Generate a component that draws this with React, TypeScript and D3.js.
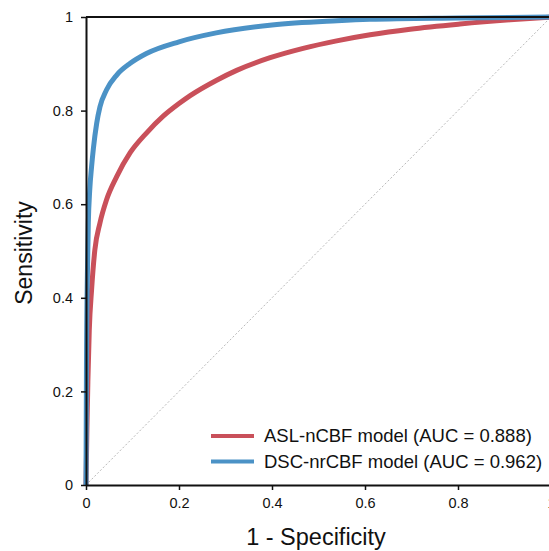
import React, { useEffect, useRef } from 'react';
import * as d3 from 'd3';

// ROC curves: [1 - specificity, sensitivity]
const aslFpr = [0, 0.002, 0.004, 0.007, 0.012, 0.019, 0.03, 0.044, 0.066, 0.095, 0.13, 0.166, 0.2, 0.224, 0.281, 0.324, 0.396, 0.467, 0.539, 0.611, 0.697, 0.804, 0.912, 1];
const aslTpr = [0, 0.12, 0.22, 0.33, 0.417, 0.502, 0.56, 0.609, 0.659, 0.71, 0.752, 0.788, 0.815, 0.832, 0.865, 0.886, 0.913, 0.933, 0.949, 0.962, 0.974, 0.985, 0.994, 1];

const dscFpr = [0, 0.001, 0.003, 0.005, 0.008, 0.012, 0.016, 0.023, 0.03, 0.044, 0.066, 0.095, 0.13, 0.2, 0.28, 0.4, 0.54, 0.61, 0.8, 1];
const dscTpr = [0, 0.25, 0.45, 0.56, 0.63, 0.68, 0.72, 0.773, 0.808, 0.844, 0.876, 0.901, 0.922, 0.947, 0.966, 0.983, 0.992, 0.995, 0.998, 1];

const seriesNames = ['ASL-nCBF model (AUC = 0.888)', 'DSC-nrCBF model (AUC = 0.962)'];
const seriesColors = ['#c9505a', '#4b92c6'];
const tickValues = [0, 0.2, 0.4, 0.6, 0.8, 1];

const App = () => {
  const svgRef = useRef<SVGSVGElement>(null);

  useEffect(() => {
    const width = 549;
    const height = 551;
    const margin = { top: 17, right: -2, bottom: 66, left: 86 };
    const font = '"Liberation Sans", Arial, sans-serif';

    const x = d3.scaleLinear().domain([0, 1]).range([margin.left, width - margin.right]);
    const y = d3.scaleLinear().domain([0, 1]).range([height - margin.bottom, margin.top]);

    const svg = d3.select(svgRef.current);
    svg.selectAll('*').remove();
    svg.attr('width', width).attr('height', height).style('font-family', font);

    svg.append('rect').attr('width', width).attr('height', height).attr('fill', 'white');

    // chance line
    svg.append('line')
      .attr('x1', x(0)).attr('y1', y(0))
      .attr('x2', x(1)).attr('y2', y(1))
      .attr('stroke', '#b8b8b8')
      .attr('stroke-width', 1)
      .attr('stroke-dasharray', '2,2');

    const series = [
      aslFpr.map((f, i) => [f, aslTpr[i]] as [number, number]),
      dscFpr.map((f, i) => [f, dscTpr[i]] as [number, number])
    ];

    const line = d3.line<[number, number]>()
      .x(d => x(d[0]))
      .y(d => y(d[1]))
      .curve(d3.curveMonotoneX);

    svg.append('g')
      .selectAll('path')
      .data(series)
      .join('path')
      .attr('fill', 'none')
      .attr('stroke', (d, i) => seriesColors[i])
      .attr('stroke-width', 5)
      .attr('stroke-linejoin', 'round')
      .attr('d', d => line(d));

    // top border of the frame
    svg.append('line')
      .attr('x1', x(0)).attr('x2', x(1))
      .attr('y1', y(1)).attr('y2', y(1))
      .attr('stroke', '#111').attr('stroke-width', 2);

    const xAxis = svg.append('g')
      .attr('transform', `translate(0,${y(0)})`)
      .call(d3.axisBottom(x).tickValues(tickValues).tickFormat(d => String(d)).tickSize(5).tickSizeOuter(0).tickPadding(8));
    xAxis.select('.domain').attr('stroke', '#111').attr('stroke-width', 2);
    xAxis.selectAll('.tick line').attr('stroke', '#111').attr('stroke-width', 1.5);
    xAxis.selectAll('.tick text').attr('font-size', 14.5).attr('fill', '#111').attr('font-family', font);

    const yAxis = svg.append('g')
      .attr('transform', `translate(${x(0)},0)`)
      .call(d3.axisLeft(y).tickValues(tickValues).tickFormat(d => String(d)).tickSize(5).tickSizeOuter(0).tickPadding(8));
    yAxis.select('.domain').attr('stroke', '#111').attr('stroke-width', 2);
    yAxis.selectAll('.tick line').attr('stroke', '#111').attr('stroke-width', 1.5);
    yAxis.selectAll('.tick text').attr('font-size', 14.5).attr('fill', '#111').attr('font-family', font);

    svg.append('text')
      .attr('x', 316)
      .attr('y', 545)
      .attr('text-anchor', 'middle')
      .attr('font-size', 23.5)
      .attr('fill', '#111')
      .text('1 - Specificity');

    svg.append('text')
      .attr('transform', `translate(32,${y(0.5) + 2}) rotate(-90)`)
      .attr('text-anchor', 'middle')
      .attr('font-size', 23)
      .attr('fill', '#111')
      .text('Sensitivity');

    // legend
    const legend = svg.append('g').attr('transform', 'translate(211,436)');
    const item = legend.selectAll('g')
      .data(seriesNames)
      .join('g')
      .attr('transform', (d, i) => `translate(0,${i * 25.5})`);
    item.append('line')
      .attr('x1', 0).attr('x2', 43)
      .attr('stroke', (d, i) => seriesColors[i])
      .attr('stroke-width', 4);
    item.append('text')
      .attr('x', 53)
      .attr('dy', '0.35em')
      .attr('font-size', 18.5)
      .attr('fill', '#111')
      .text(d => d);
  }, []);

  return (
    <svg ref={svgRef} style={{ position: 'absolute', left: 0, top: 0, display: 'block' }}></svg>
  );
};

export default App;
